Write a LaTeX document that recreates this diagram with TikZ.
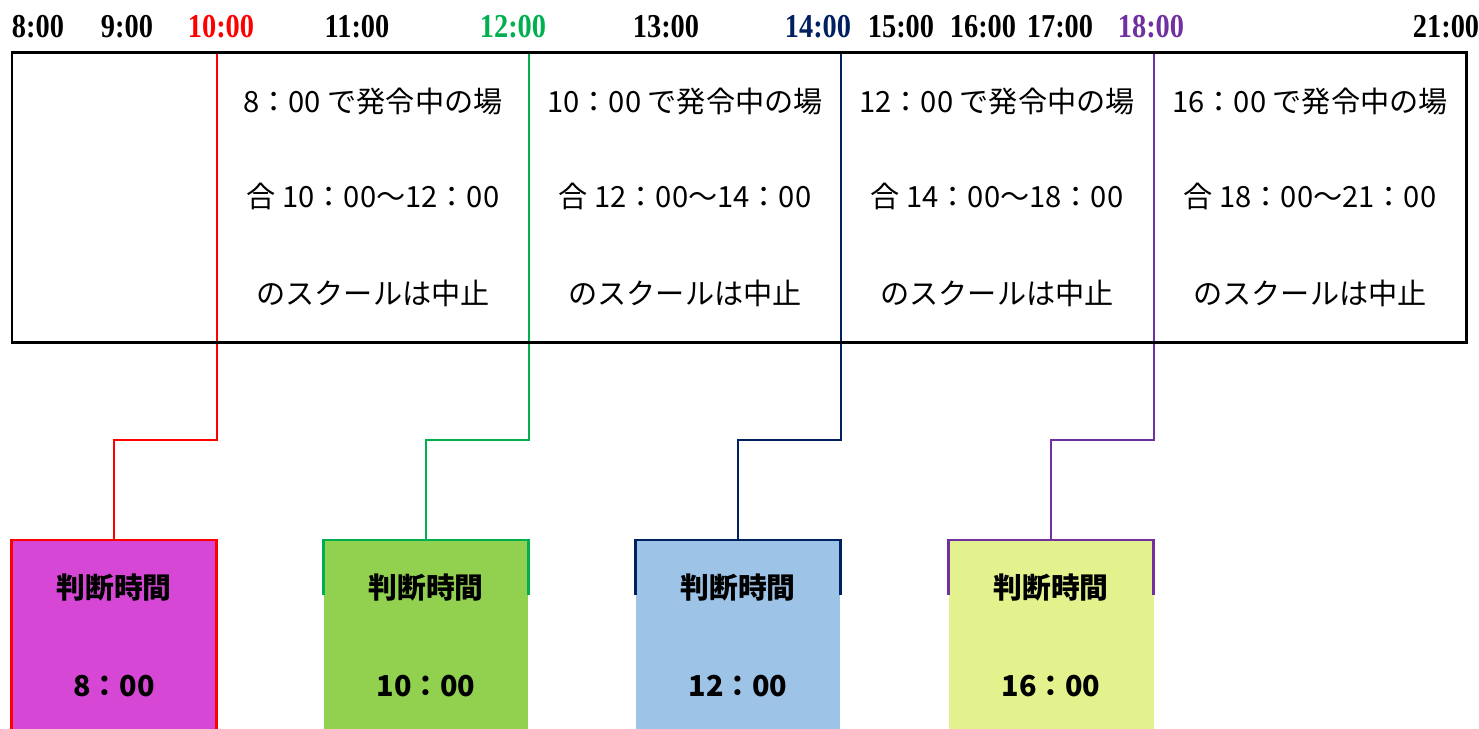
\documentclass[tikz,border=0pt]{standalone}
\usepackage{fontspec}
\setmainfont{Liberation Serif}
\newfontfamily\jpfont{Noto Sans CJK JP}
\newfontfamily\hourfont[FakeStretch=0.85]{Liberation Serif}
\definecolor{lineRed}{HTML}{FF0000}
\definecolor{lineGreen}{HTML}{00B050}
\definecolor{lineNavy}{HTML}{002060}
\definecolor{lineViolet}{HTML}{7030A0}
\definecolor{cardMagenta}{HTML}{D647D6}
\definecolor{cardGreen}{HTML}{92D050}
\definecolor{cardBlue}{HTML}{9DC3E6}
\definecolor{cardYellow}{HTML}{E4F28E}
\begin{document}
\begin{tikzpicture}[x=0.02cm,y=-0.02cm,line join=miter]
    \tikzset{hour/.style={font=\hourfont\fontsize{19}{20}\selectfont\bfseries,inner sep=0pt},
        cell/.style={font=\jpfont\fontsize{16.6}{18}\selectfont,inner sep=0pt},
        judge/.style={font=\jpfont\fontsize{16.4}{18}\selectfont\bfseries,inner sep=0pt},
        card/.style={minimum width=4.1cm,minimum height=4cm,inner sep=0pt,anchor=north},
        wire/.style={line width=1.6pt}}
    \useasboundingbox (0,0) rectangle (1479,728);
    \clip (0,0) rectangle (1479,728);
    \foreach \x/\h/\c in {38/8/black,127/9/black,221/10/lineRed,357/11/black,513/12/lineGreen,666/13/black,818/14/lineNavy,901/15/black,983/16/black,1060/17/black,1151/18/lineViolet,1446/21/black}
    \node[hour,text=\c] (h\h) at (\x,27) {\h:00};
    \foreach \x/\a/\b/\e/\n in {373/8/10/12/1,685/10/12/14/2,997/12/14/18/3,1310/16/18/21/4} {
        \node[cell] (msg\n-a) at (\x,101) {\a：00 で発令中の場};
        \node[cell] (msg\n-b) at (\x,196) {合 \b：00～\e：00};
        \node[cell] (msg\n-c) at (\x,293) {のスクールは中止};
    }
    \foreach \h/\t/\x/\c/\f in {8/10/217/lineRed/cardMagenta,10/12/529/lineGreen/cardGreen,12/14/841/lineNavy/cardBlue,16/18/1154/lineViolet/cardYellow} {
        \coordinate (c\t) at (\x,52);
        \node[card,fill=\f] (b\h) at (\x-103,540) {};
        \node[judge] (j\h) at (\x-103,588) {判断時間};
        \node[judge] (k\h) at (\x-103,686) {\h：00};
        \draw[wire,draw=\c] (c\t) -- ++(0,388) -| (b\h.north);
        \draw[wire,draw=\c] (b\h.north west) ++(0,55) -- (b\h.north west) -- (b\h.north east) -- ++(0,55);
    }
    \draw[wire,draw=lineRed] (b8.south west) rectangle (b8.north east);
    \draw[line width=1.7pt] (12,52) rectangle (1466,342);
\end{tikzpicture}
\end{document}
